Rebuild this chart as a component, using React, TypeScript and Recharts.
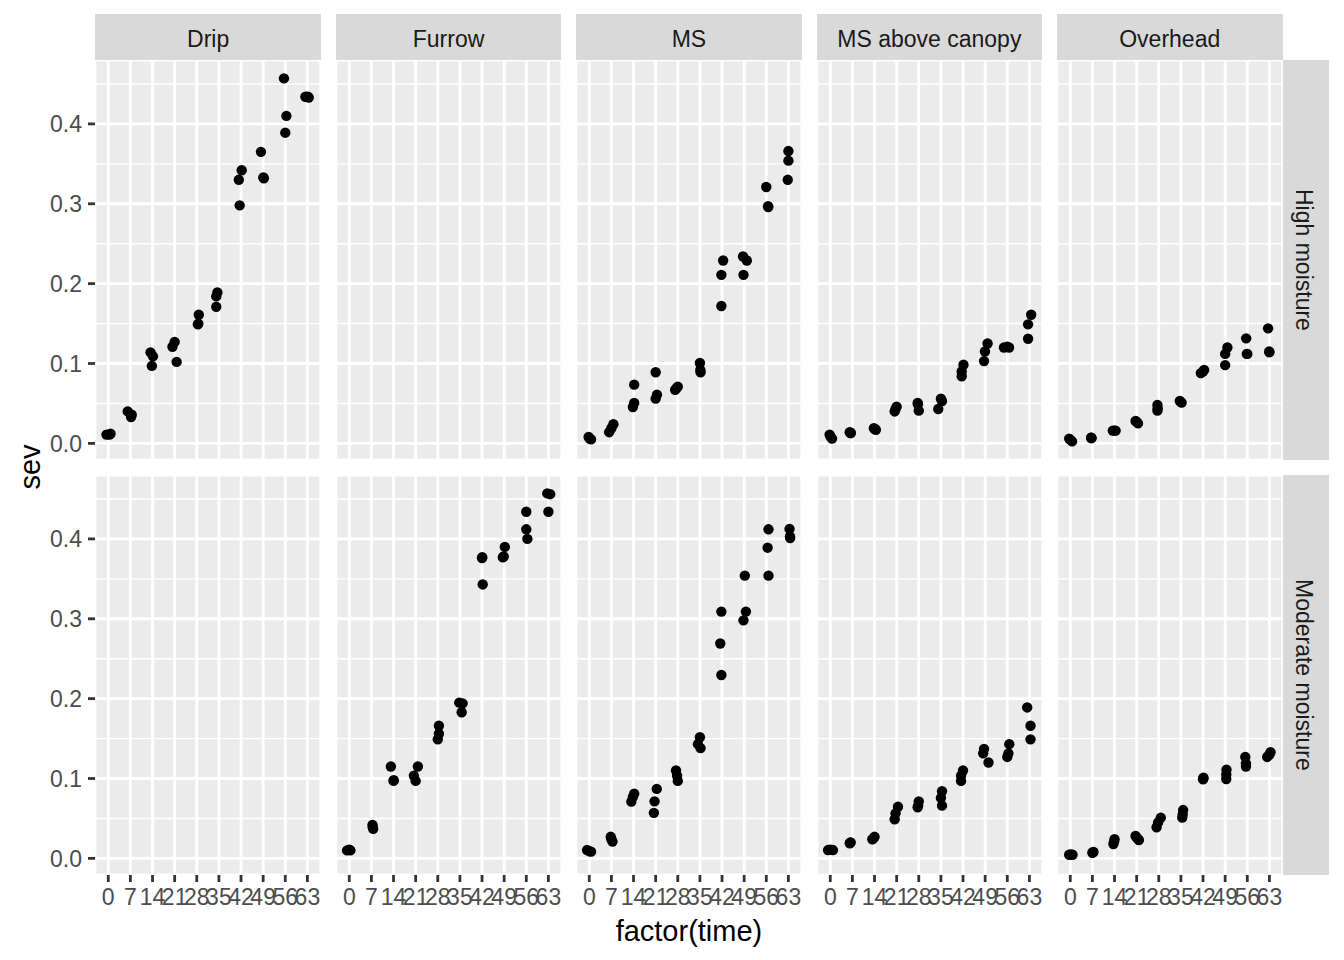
import React from 'react';
import { ScatterChart, Scatter, XAxis, YAxis, CartesianGrid } from 'recharts';

// time points (discrete x axis) and severity ticks
const times = [0, 7, 14, 21, 28, 35, 42, 49, 56, 63];
const sevTicks = [0, 0.1, 0.2, 0.3, 0.4];
const sevMinor = [0.05, 0.15, 0.25, 0.35, 0.45];

const irrigation = ['Drip', 'Furrow', 'MS', 'MS above canopy', 'Overhead'];
const moisture = ['High moisture', 'Moderate moisture'];

// [time, jitter (in category units), sev]
type Pt = [number, number, number];

const dripHigh: Pt[] = [
  [0, -0.08, 0.011], [0, 0.05, 0.011], [0, 0.1, 0.012],
  [7, -0.12, 0.04], [7, 0.06, 0.036], [7, 0.03, 0.033],
  [14, -0.09, 0.114], [14, 0.02, 0.109], [14, -0.03, 0.097],
  [21, 0, 0.127], [21, -0.1, 0.121], [21, 0.09, 0.102],
  [28, 0.09, 0.161], [28, 0.05, 0.149], [28, 0.07, 0.15],
  [35, -0.07, 0.189], [35, -0.12, 0.184], [35, -0.12, 0.171],
  [42, 0.03, 0.342], [42, -0.1, 0.33], [42, -0.06, 0.298],
  [49, -0.1, 0.365], [49, 0.03, 0.332], [49, 0.01, 0.333],
  [56, -0.06, 0.457], [56, 0.05, 0.41], [56, 0, 0.389],
  [63, -0.09, 0.434], [63, 0.06, 0.433], [63, 0.02, 0.434],
];

const furrowHigh: Pt[] = [];

const msHigh: Pt[] = [
  [0, -0.03, 0.008], [0, 0.08, 0.005], [0, 0.02, 0.006],
  [7, 0.09, 0.024], [7, 0, 0.019], [7, -0.1, 0.014],
  [14, 0.03, 0.0735], [14, 0.03, 0.0505], [14, -0.03, 0.0455],
  [21, 0, 0.089], [21, 0.06, 0.061], [21, 0, 0.056],
  [28, 0, 0.071], [28, -0.12, 0.067], [28, -0.06, 0.069],
  [35, 0, 0.1006], [35, 0.03, 0.089], [35, 0.02, 0.092],
  [42, 0.05, 0.229], [42, -0.03, 0.211], [42, -0.03, 0.172],
  [49, -0.05, 0.234], [49, 0.12, 0.229], [49, -0.03, 0.211],
  [56, 0, 0.321], [56, 0.09, 0.296], [56, 0.08, 0.297],
  [63, 0, 0.366], [63, 0, 0.354], [63, -0.03, 0.33],
];

const msCanopyHigh: Pt[] = [
  [0, -0.03, 0.011], [0, 0.08, 0.006], [0, 0.02, 0.008],
  [7, -0.07, 0.013], [7, -0.12, 0.014], [7, -0.09, 0.013],
  [14, -0.03, 0.019], [14, 0.06, 0.017], [14, 0.01, 0.018],
  [21, 0, 0.046], [21, -0.09, 0.04], [21, -0.05, 0.043],
  [28, -0.05, 0.0505], [28, 0, 0.041], [28, -0.04, 0.049],
  [35, 0, 0.056], [35, -0.12, 0.043], [35, 0.05, 0.053],
  [42, 0.02, 0.0985], [42, -0.06, 0.09], [42, -0.06, 0.084],
  [49, 0.11, 0.125], [49, -0.01, 0.115], [49, -0.05, 0.103],
  [56, -0.15, 0.12], [56, 0.08, 0.12], [56, 0, 0.121],
  [63, 0.08, 0.161], [63, -0.06, 0.149], [63, -0.06, 0.131],
];

const overheadHigh: Pt[] = [
  [0, -0.05, 0.006], [0, 0.08, 0.0025], [0, 0.02, 0.004],
  [7, -0.05, 0.007], [7, -0.04, 0.0065], [7, -0.06, 0.007],
  [14, -0.08, 0.016], [14, 0.05, 0.016], [14, 0, 0.016],
  [21, -0.05, 0.028], [21, 0.06, 0.025], [21, 0, 0.027],
  [28, -0.06, 0.048], [28, -0.06, 0.041], [28, -0.05, 0.044],
  [35, -0.05, 0.053], [35, 0.03, 0.051], [35, 0, 0.052],
  [42, -0.1, 0.088], [42, 0.05, 0.092], [42, 0, 0.09],
  [49, 0.1, 0.12], [49, 0, 0.112], [49, 0, 0.098],
  [56, -0.05, 0.1315], [56, 0, 0.112], [56, -0.02, 0.112],
  [63, -0.06, 0.144], [63, 0, 0.114], [63, -0.01, 0.115],
];

const dripMod: Pt[] = [];

const furrowMod: Pt[] = [
  [0, -0.1, 0.01], [0, 0.05, 0.01], [0, 0, 0.011],
  [7, 0.05, 0.042], [7, 0.08, 0.037], [7, 0.06, 0.039],
  [14, -0.12, 0.115], [14, 0, 0.097], [14, 0.01, 0.098],
  [21, 0.1, 0.115], [21, -0.08, 0.1035], [21, 0, 0.097],
  [28, 0.05, 0.166], [28, 0.05, 0.156], [28, 0, 0.149],
  [35, -0.03, 0.195], [35, 0.12, 0.194], [35, 0.08, 0.183],
  [42, 0, 0.376], [42, 0.03, 0.343], [42, 0.01, 0.377],
  [49, 0.03, 0.39], [49, -0.06, 0.377], [49, -0.02, 0.378],
  [56, 0, 0.434], [56, 0, 0.412], [56, 0.05, 0.4],
  [63, -0.05, 0.457], [63, 0.08, 0.456], [63, 0, 0.434],
];

const msMod: Pt[] = [
  [0, -0.1, 0.0104], [0, 0.08, 0.0084], [0, 0, 0.009],
  [7, -0.03, 0.027], [7, 0.05, 0.021], [7, 0, 0.024],
  [14, 0.03, 0.081], [14, -0.03, 0.077], [14, -0.1, 0.071],
  [21, 0.05, 0.087], [21, -0.05, 0.0714], [21, -0.08, 0.057],
  [28, -0.08, 0.11], [28, -0.03, 0.1035], [28, 0, 0.097],
  [35, 0, 0.1516], [35, -0.09, 0.143], [35, 0.03, 0.138],
  [42, -0.03, 0.309], [42, -0.08, 0.269], [42, -0.03, 0.2296],
  [49, 0.03, 0.354], [49, 0.08, 0.309], [49, -0.03, 0.298],
  [56, 0.1, 0.412], [56, 0.06, 0.389], [56, 0.1, 0.354],
  [63, 0.05, 0.4125], [63, 0.08, 0.401], [63, 0.07, 0.403],
];

const msCanopyMod: Pt[] = [
  [0, -0.1, 0.0104], [0, 0.12, 0.0104], [0, 0, 0.011],
  [7, -0.12, 0.019], [7, -0.08, 0.02], [7, -0.1, 0.0195],
  [14, -0.1, 0.024], [14, 0, 0.027], [14, -0.05, 0.025],
  [21, 0.06, 0.0647], [21, -0.05, 0.0564], [21, -0.09, 0.049],
  [28, 0, 0.0714], [28, -0.05, 0.064], [28, -0.03, 0.066],
  [35, 0.05, 0.084], [35, 0, 0.0756], [35, 0.05, 0.066],
  [42, 0, 0.11], [42, -0.09, 0.1035], [42, -0.09, 0.097],
  [49, -0.05, 0.137], [49, -0.09, 0.1315], [49, 0.15, 0.12],
  [56, 0.09, 0.143], [56, 0.05, 0.1315], [56, 0, 0.127],
  [63, -0.1, 0.189], [63, 0.05, 0.166], [63, 0.05, 0.149],
];

const overheadMod: Pt[] = [
  [0, -0.05, 0.0046], [0, 0.1, 0.0046], [0, 0.02, 0.005],
  [7, 0, 0.007], [7, 0.05, 0.008], [7, 0.02, 0.0075],
  [14, 0, 0.024], [14, -0.05, 0.018], [14, -0.02, 0.021],
  [21, -0.05, 0.028], [21, 0.1, 0.023], [21, 0.03, 0.025],
  [28, 0.09, 0.051], [28, -0.03, 0.045], [28, -0.1, 0.039],
  [35, 0.1, 0.0605], [35, 0.06, 0.051], [35, 0.08, 0.055],
  [42, 0, 0.099], [42, 0.02, 0.101], [42, 0.01, 0.1],
  [49, 0.06, 0.111], [49, 0.05, 0.0994], [49, 0.05, 0.105],
  [56, -0.09, 0.127], [56, -0.06, 0.119], [56, -0.06, 0.115],
  [63, 0.05, 0.133], [63, -0.1, 0.127], [63, 0, 0.13],
];

const panels: Pt[][][] = [
  [dripHigh, furrowHigh, msHigh, msCanopyHigh, overheadHigh],
  [dripMod, furrowMod, msMod, msCanopyMod, overheadMod],
];

// layout (px)
const PX0 = 95.3;
const PY0 = 60;
const PW = 225.7;
const PH = 400;
const GAP = 14.7;
const STRIP = 46;
const YW = 60;
const XH = 40;
const FONT = '"Liberation Sans", Arial, Helvetica, sans-serif';

const Dot = (props: any) => <circle cx={props.cx} cy={props.cy} r={5.2} fill="#000" />;

function minorLines({ yAxis }: any) {
  const s = yAxis?.scale;
  const f = typeof s === 'function' ? s : s?.map?.bind(s);
  if (!f) return [];
  return sevMinor.map((v) => f(v));
}

function Panel({ data, row, col }: { data: Pt[]; row: number; col: number }) {
  const showY = col === 0;
  const showX = row === 1;
  const left = PX0 + col * (PW + GAP) - (showY ? YW : 0);
  const top = PY0 + row * (PH + GAP);
  const pts = data.map(([t, j, s]) => ({ x: times.indexOf(t) + j, y: s }));
  return (
    <div style={{ position: 'absolute', left, top }}>
      <ScatterChart
        width={PW + (showY ? YW : 0)}
        height={PH + (showX ? XH : 0)}
        margin={{ top: 0, right: 0, bottom: 0, left: 0 }}
      >
        <CartesianGrid
          fill="#EBEBEB"
          stroke="#FFFFFF"
          strokeWidth={1.4}
          vertical={false}
          horizontalCoordinatesGenerator={minorLines}
        />
        <CartesianGrid stroke="#FFFFFF" strokeWidth={2.8} />
        <XAxis
          type="number"
          dataKey="x"
          domain={[-0.6, 9.6]}
          allowDataOverflow
          ticks={times.map((_, i) => i)}
          interval={0}
          tickFormatter={(i: number) => String(times[i])}
          hide={!showX}
          height={XH}
          axisLine={false}
          tickSize={7}
          tickMargin={7}
          tickLine={{ stroke: '#333333', strokeWidth: 2.8 }}
          tick={{ fill: '#4D4D4D', fontSize: 23 }}
        />
        <YAxis
          type="number"
          dataKey="y"
          domain={[-0.0208, 0.48]}
          allowDataOverflow
          ticks={sevTicks}
          interval={0}
          tickFormatter={(v: number) => v.toFixed(1)}
          hide={!showY}
          width={YW}
          axisLine={false}
          tickSize={7}
          tickMargin={6}
          tickLine={{ stroke: '#333333', strokeWidth: 2.8 }}
          tick={{ fill: '#4D4D4D', fontSize: 23 }}
        />
        <Scatter data={pts} shape={Dot} isAnimationActive={false} />
      </ScatterChart>
    </div>
  );
}

export default function App() {
  const stripText = { fontSize: 23, color: '#1A1A1A', boxSizing: 'border-box' as const };
  return (
    <div
      style={{
        position: 'absolute',
        left: 0,
        top: 0,
        width: 1344,
        height: 960,
        background: '#FFFFFF',
        fontFamily: FONT,
        overflow: 'hidden',
      }}
    >
      {/* column strips */}
      {irrigation.map((name, c) => (
        <div
          key={name}
          style={{
            position: 'absolute',
            left: PX0 + c * (PW + GAP),
            top: PY0 - STRIP,
            width: PW,
            height: STRIP,
            paddingTop: 4,
            background: '#D9D9D9',
            display: 'flex',
            alignItems: 'center',
            justifyContent: 'center',
            ...stripText,
          }}
        >
          {name}
        </div>
      ))}

      {/* row strips */}
      {moisture.map((name, r) => (
        <div
          key={name}
          style={{
            position: 'absolute',
            left: PX0 + 5 * PW + 4 * GAP,
            top: PY0 + r * (PH + GAP),
            width: STRIP,
            height: PH,
            paddingRight: 4,
            background: '#D9D9D9',
            display: 'flex',
            alignItems: 'center',
            justifyContent: 'center',
            ...stripText,
          }}
        >
          <span style={{ writingMode: 'vertical-rl' }}>{name}</span>
        </div>
      ))}

      {panels.map((rowData, r) =>
        rowData.map((d, c) => <Panel key={`${r}-${c}`} data={d} row={r} col={c} />)
      )}

      {/* axis titles */}
      <div
        style={{
          position: 'absolute',
          left: PX0,
          width: 5 * PW + 4 * GAP,
          top: 914,
          textAlign: 'center',
          fontSize: 29,
          color: '#000',
          lineHeight: '34px',
        }}
      >
        factor(time)
      </div>
      <div
        style={{
          position: 'absolute',
          left: 29.5,
          top: 467,
          transform: 'translate(-50%, -50%) rotate(-90deg)',
          fontSize: 29,
          color: '#000',
          lineHeight: '34px',
          whiteSpace: 'nowrap',
        }}
      >
        sev
      </div>
    </div>
  );
}
